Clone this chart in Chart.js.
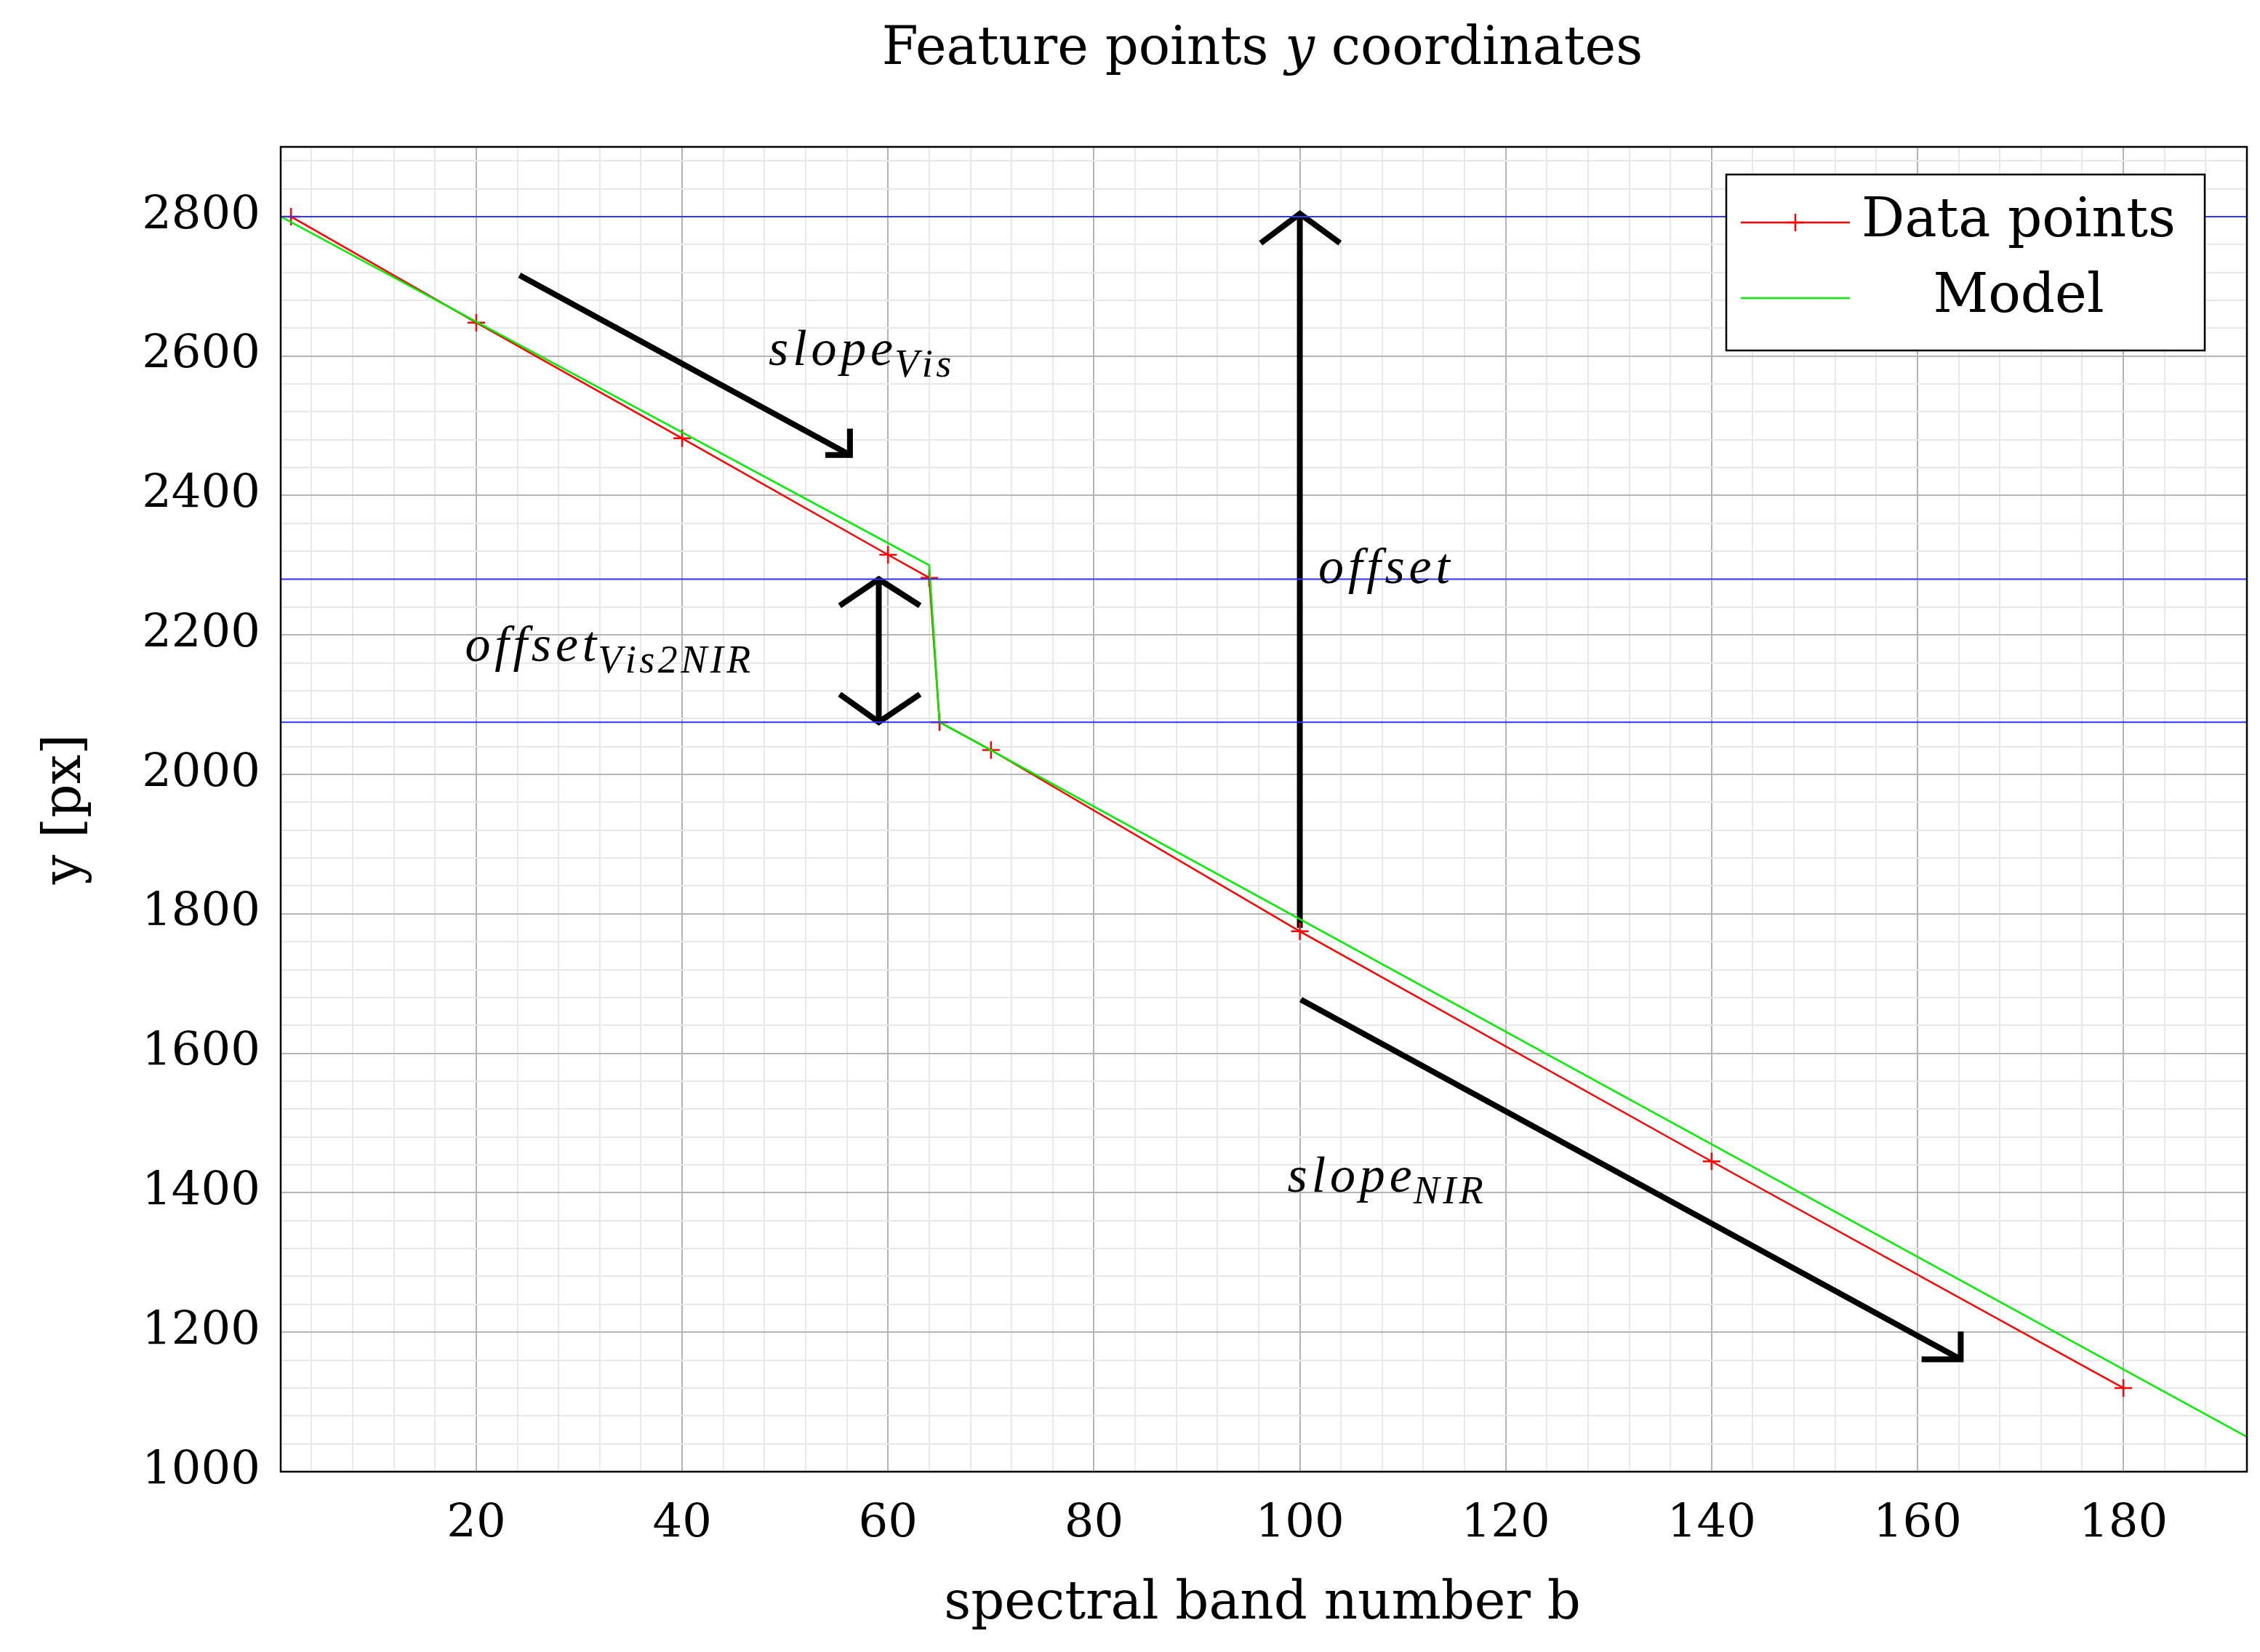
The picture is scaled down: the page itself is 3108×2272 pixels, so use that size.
<!DOCTYPE html>
<html>
<head>
<meta charset="utf-8">
<script src="https://cdn.jsdelivr.net/npm/chart.js@4/dist/chart.umd.min.js"></script>
<style>body{margin:0;background:#fff}canvas{display:block}</style>
</head>
<body>
<canvas id="c" width="3108" height="2272"></canvas>
<script>
// data
const bands = [2, 20, 40, 60, 64, 65, 70, 100, 140, 180];
const yPx = [2800, 2648, 2482, 2315, 2282, 2075, 2035, 1775, 1445, 1120];
const modelX = [1, 64, 65, 192];
const modelY = [2800, 2300, 2075, 1050];
const levels = [2800, 2280, 2075];
const xTicks = [20, 40, 60, 80, 100, 120, 140, 160, 180];
const yTicks = [1000, 1200, 1400, 1600, 1800, 2000, 2200, 2400, 2600, 2800];

// annotation arrows (data coords), each a polyline
const arrows = [
  [[24.2, 2716], [56.3, 2458]], [[56.3, 2496], [56.3, 2458], [53.9, 2458]],
  [[100, 1780], [100, 2804]], [[96.2, 2762], [100, 2804], [103.9, 2762]],
  [[59.1, 2280], [59.1, 2075]], [[55.3, 2242], [59.1, 2280], [63.1, 2242]], [[55.3, 2115], [59.1, 2075], [63.1, 2115]],
  [[100.1, 1677], [164.2, 1161]], [[164.2, 1201], [164.2, 1161], [160.4, 1161]]
];
const labels = [
  { x: 48.4, y: 2587, main: 'slope', sub: 'Vis' },
  { x: 101.8, y: 2274, main: 'offset', sub: '' },
  { x: 18.9, y: 2163, main: 'offset', sub: 'Vis2NIR' },
  { x: 98.8, y: 1401, main: 'slope', sub: 'NIR' }
];

const FONT = '"DejaVu Serif", "Liberation Serif", serif';
const MATH = '"Liberation Serif", serif';
const pts = (xs, ys) => xs.map((x, i) => ({ x, y: ys[i] }));

const datasets = [];
levels.forEach(v => datasets.push({ data: [{ x: 1, y: v }, { x: 192, y: v }], borderColor: '#3333ff', borderWidth: 2, pointRadius: 0 }));
datasets.push({ label: 'Model', data: pts(modelX, modelY), borderColor: '#00ee00', borderWidth: 2.5, pointRadius: 0 });
datasets.push({ label: 'Data points', data: pts(bands, yPx), borderColor: '#ff0000', borderWidth: 2.5, pointStyle: 'cross', pointRadius: 12, pointBorderWidth: 2.5, pointBorderColor: '#ff0000' });
arrows.forEach(a => datasets.push({ data: a.map(p => ({ x: p[0], y: p[1] })), borderColor: '#000', borderWidth: 8, pointRadius: 0, borderCapStyle: 'butt', borderJoinStyle: 'miter' }));

const minorX = []; for (let v = 4; v <= 188; v += 4) minorX.push(v);
const minorY = []; for (let v = 1040; v <= 2880; v += 40) minorY.push(v);

const textPlugin = {
  id: 'texts',
  afterDraw(chart) {
    const { ctx, chartArea: a, scales: { x, y } } = chart;
    ctx.save();
    ctx.fillStyle = '#000';
    ctx.font = '64px ' + FONT;
    ctx.textAlign = 'center'; ctx.textBaseline = 'alphabetic';
    xTicks.forEach(t => ctx.fillText(String(t), x.getPixelForValue(t), 2114));
    ctx.textAlign = 'right'; ctx.textBaseline = 'middle';
    yTicks.forEach(t => ctx.fillText(String(t), 358, y.getPixelForValue(t)));
    // title and axis titles
    ctx.textBaseline = 'alphabetic';
    ctx.font = '72px ' + FONT;
    const t1 = 'Feature points ', t2 = 'y', t3 = ' coordinates';
    const w1 = ctx.measureText(t1).width, w3 = ctx.measureText(t3).width;
    ctx.font = 'italic 72px ' + FONT; const w2 = ctx.measureText(t2).width;
    let sx = 1736 - (w1 + w2 + w3) / 2;
    ctx.textAlign = 'left';
    ctx.font = '72px ' + FONT; ctx.fillText(t1, sx, 88);
    ctx.font = 'italic 72px ' + FONT; ctx.fillText(t2, sx + w1, 88);
    ctx.font = '72px ' + FONT; ctx.fillText(t3, sx + w1 + w2, 88);
    ctx.textAlign = 'center';
    ctx.fillText('spectral band number b', 1736, 2226);
    ctx.save(); ctx.translate(110, 1113); ctx.rotate(-Math.PI / 2); ctx.fillText('y [px]', 0, 0); ctx.restore();
    // math labels
    ctx.textAlign = 'left';
    labels.forEach(l => {
      const px = x.getPixelForValue(l.x), py = y.getPixelForValue(l.y);
      const s = l.main.split('').join('\u200A');
      ctx.font = 'italic 70px ' + MATH;
      ctx.fillText(s, px, py);
      const w = ctx.measureText(s).width;
      if (l.sub) { ctx.font = 'italic 54px ' + MATH; ctx.fillText(l.sub.split('').join('\u200A'), px + w + 2, py + 16); }
    });
    // legend
    ctx.fillStyle = '#fff'; ctx.fillRect(2374, 240, 658, 242);
    ctx.strokeStyle = '#000'; ctx.lineWidth = 2.5; ctx.strokeRect(2374, 240, 658, 242);
    ctx.strokeStyle = '#ff0000';
    ctx.beginPath(); ctx.moveTo(2394, 306); ctx.lineTo(2544, 306); ctx.stroke();
    ctx.beginPath(); ctx.moveTo(2457, 306); ctx.lineTo(2481, 306); ctx.moveTo(2469, 294); ctx.lineTo(2469, 318); ctx.stroke();
    ctx.strokeStyle = '#00ee00';
    ctx.beginPath(); ctx.moveTo(2394, 410); ctx.lineTo(2544, 410); ctx.stroke();
    ctx.fillStyle = '#000'; ctx.font = '74px ' + FONT; ctx.textAlign = 'center'; ctx.textBaseline = 'middle';
    ctx.fillText('Data points', 2776, 306);
    ctx.fillText('Model', 2776, 410);
    // frame
    ctx.strokeStyle = '#000'; ctx.lineWidth = 2.5; ctx.strokeRect(a.left, a.top, a.right - a.left, a.bottom - a.top);
    ctx.restore();
  }
};

new Chart(document.getElementById('c'), {
  type: 'line',
  data: { datasets },
  options: {
    responsive: false, animation: false,
    layout: { padding: { top: 202, right: 18, left: 0, bottom: 0 } },
    plugins: { legend: { display: false }, tooltip: { enabled: false }, title: { display: false } },
    scales: {
      x: {
        type: 'linear', min: 1, max: 192,
        afterBuildTicks: s => { s.ticks = minorX.map(v => ({ value: v })); },
        afterFit: s => { s.height = 248; },
        ticks: { display: false },
        grid: { color: c => (c.tick && c.tick.value % 20 === 0) ? '#b4b4b4' : '#e8e8e8', lineWidth: 2, tickLength: 0, drawTicks: false },
        border: { display: false }
      },
      y: {
        type: 'linear', min: 1000, max: 2900,
        afterBuildTicks: s => { s.ticks = minorY.map(v => ({ value: v })); },
        afterFit: s => { s.width = 386; },
        ticks: { display: false },
        grid: { color: c => (c.tick && c.tick.value % 200 === 0) ? '#b4b4b4' : '#e8e8e8', lineWidth: 2, tickLength: 0, drawTicks: false },
        border: { display: false }
      }
    }
  },
  plugins: [textPlugin]
});
</script>
</body>
</html>
